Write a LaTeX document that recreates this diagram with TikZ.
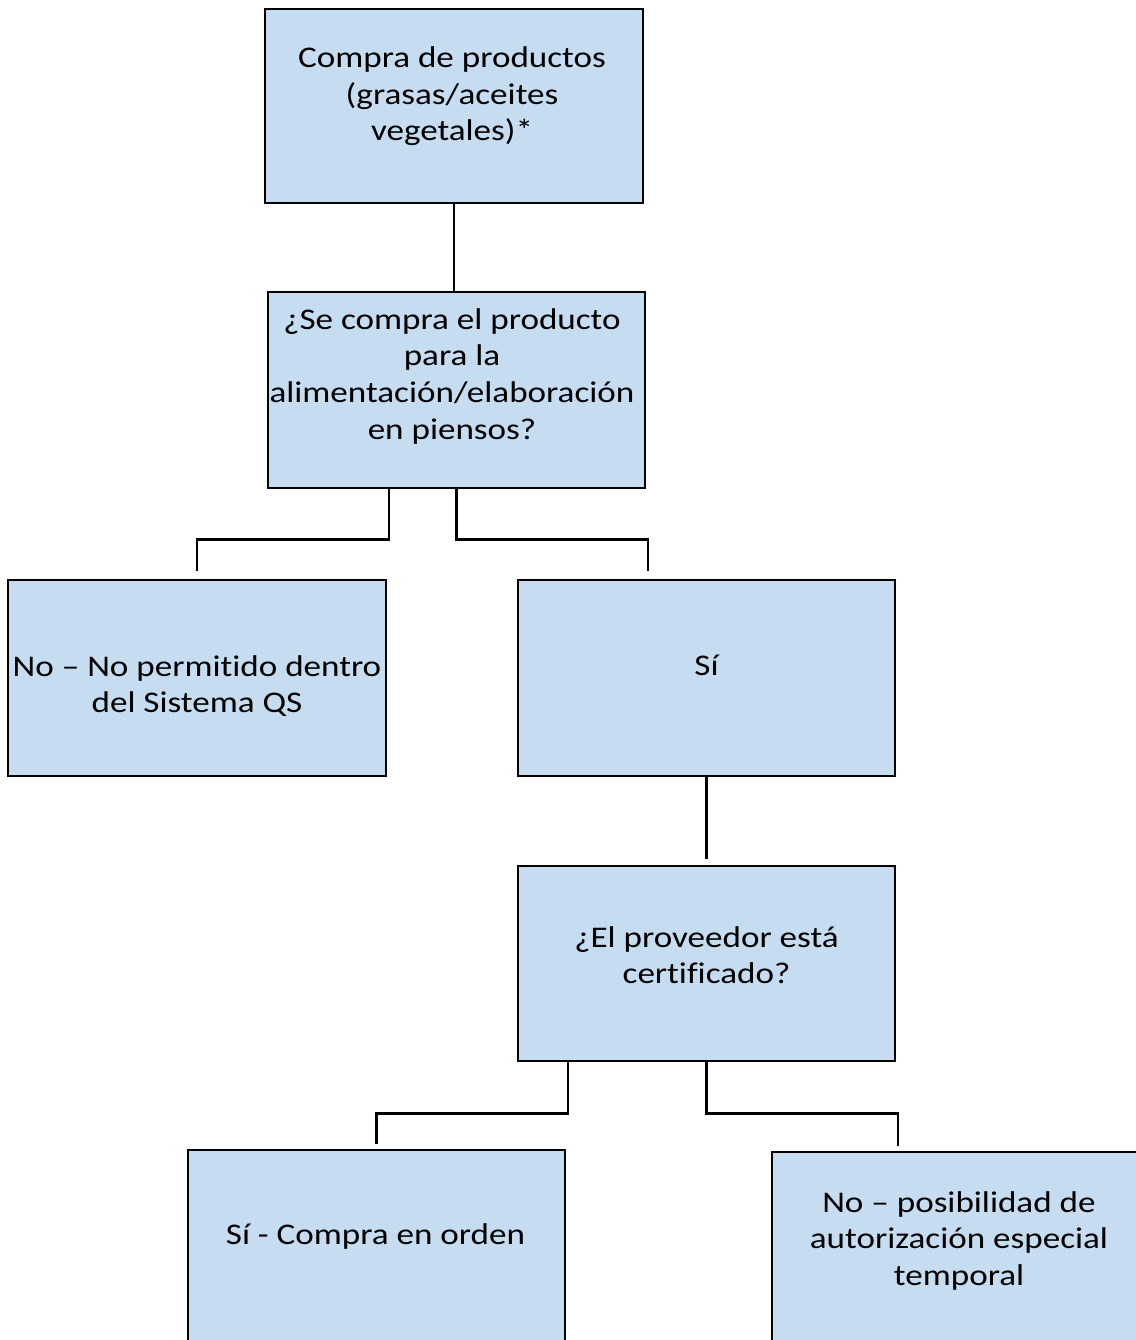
\documentclass[tikz,border=0pt]{standalone}
\usepackage{fontspec}
\setmainfont{Carlito}[FakeStretch=1.17,Ligatures={NoCommon}]
\definecolor{boxfill}{HTML}{C6DCF0}
\begin{document}
\begin{tikzpicture}[x={(1pt,0pt)},y={(0pt,-1pt)},
  box/.style={draw=black,line width=2.5pt,fill=boxfill,rectangle,inner sep=0pt,minimum width=377pt,minimum height=195pt},
  txt/.style={anchor=north,inner sep=0pt,align=center,font=\fontsize{30}{36.6}\selectfont},
  conn/.style={draw=black,line width=2.5pt}]
\useasboundingbox (0,0) rectangle (1135,1340);
\node[box,minimum width=378pt,minimum height=194pt] (b1) at (454,106) {};
\node[box,minimum height=196pt] (b2) at (456.5,390) {};
\node[box,minimum width=378pt,minimum height=196pt] (b3) at (197,678) {};
\node[box,minimum height=196pt] (b4) at (706.5,678) {};
\node[box] (b5) at (706.5,963.5) {};
\node[box,minimum height=196pt] (b6) at (376.5,1248) {};
\node[box,minimum height=196pt] (b7) at (960.5,1250) {};
\newcommand{\fr}{\rule{0pt}{24pt}}
\node[txt] (t1) at (452,43.5) {\fr Compra de productos\\(grasas/aceites\\vegetales)*};
\node[txt] (t2) at (452,305) {\fr ¿Se compra el producto\\para la\\alimentación/elaboración\\en piensos?};
\node[txt] (t3) at (197,652) {\fr No – No permitido dentro\\del Sistema QS};
\node[txt] (t4) at (706.5,651) {\fr Sí};
\node[txt] (t5) at (706.5,923) {\fr ¿El proveedor está\\certificado?};
\node[txt] (t6) at (375.5,1220) {\fr Sí - Compra en orden};
\node[txt] (t7) at (959,1188) {\fr No – posibilidad de\\autorización especial\\temporal};
\coordinate (e3) at ([yshift=8pt]b3.north);
\coordinate (e4) at ([xshift=-58.5pt,yshift=8pt]b4.north);
\coordinate (e5) at ([yshift=6pt]b5.north);
\coordinate (e6) at ([yshift=5pt]b6.north);
\coordinate (e7) at ([xshift=-62.5pt,yshift=5pt]b7.north);
\draw[conn] (b1.south) -- (b1.south |- b2.north);
\draw[conn] ([xshift=-67.5pt]b2.south) -- ++(0,50) -| (e3);
\draw[conn] (b2.south) -- ++(0,50) -| (e4);
\draw[conn] (b4.south) -- (e5);
\draw[conn] ([xshift=-138.5pt]b5.south) -- ++(0,51) -| (e6);
\draw[conn] (b5.south) -- ++(0,51) -| (e7);
\end{tikzpicture}
\end{document}
